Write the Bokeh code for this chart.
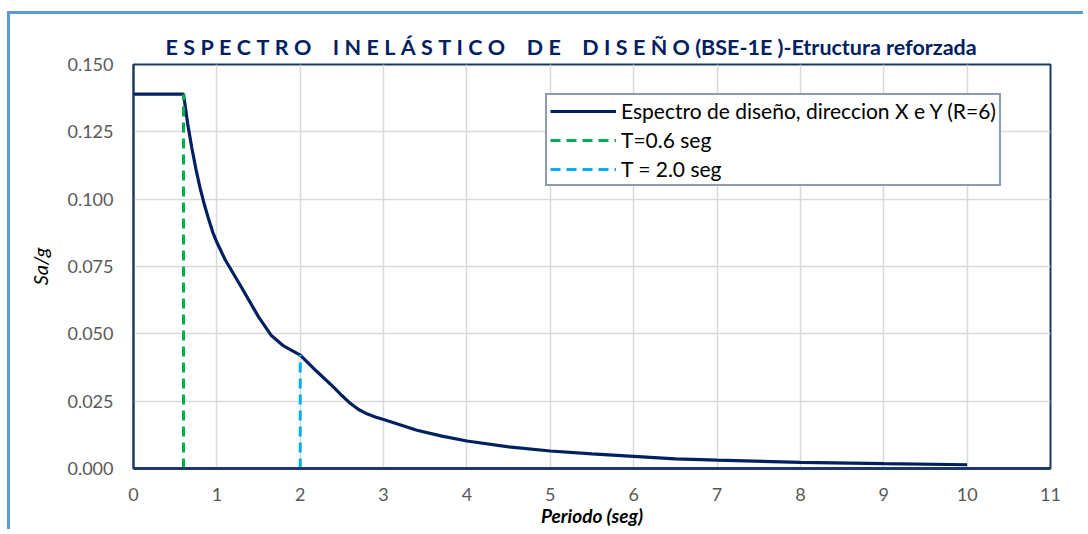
from bokeh.plotting import figure
from bokeh.models import Range1d, NumeralTickFormatter, FixedTicker, Legend
from bokeh.embed import file_html
from bokeh.resources import INLINE

# ---- data ----
periodo = [0.0, 0.6, 0.65, 0.7, 0.75, 0.8, 0.85, 0.9, 0.95, 1.0, 1.1, 1.3, 1.5, 1.65, 1.8, 2.0,
           2.2, 2.4, 2.5, 2.6, 2.7, 2.8, 2.9, 3.0, 3.4, 3.7, 4.0, 4.5, 5.0, 5.5, 6.0, 6.5, 7.0,
           8.0, 9.0, 10.0]
sa_g = [0.139, 0.139, 0.128, 0.119, 0.111, 0.104, 0.098, 0.0927, 0.0878, 0.0840, 0.0775, 0.0670,
        0.0563, 0.0495, 0.0455, 0.0421, 0.0360, 0.0302, 0.0271, 0.0242, 0.0219, 0.0203, 0.0191,
        0.0182, 0.0142, 0.0120, 0.0102, 0.0080, 0.0065, 0.0054, 0.0045, 0.0036, 0.0031, 0.0023,
        0.0018, 0.0014]
t_06 = [0.6, 0.6]
sa_06 = [0.0, 0.139]
t_20 = [2.0, 2.0]
sa_20 = [0.0, 0.0421]
x_ticks = [0, 1, 2, 3, 4, 5, 6, 7, 8, 9, 10, 11]
y_ticks = [0.0, 0.025, 0.05, 0.075, 0.1, 0.125, 0.15]

title_words = ["ESPECTRO", "INELÁSTICO", "DE", "DISEÑO"]
title_tail = "(BSE-1E )-Etructura reforzada"
x_title = "Periodo (seg)"
y_title = "Sa/g"
names = ["Espectro de diseño, direccion X e Y (R=6)", "T=0.6 seg", "T = 2.0 seg"]

# spaced-out lettering of the title (character spacing as in the original)
SP = "\u2005"
title_text = (SP * 4).join(SP.join(w) for w in title_words) + " " + title_tail

FONT = "Lato"
NAVY = "#002060"
FRAME = "#203864"

p = figure(width=1076, height=518, output_backend="svg", toolbar_location=None,
           x_range=Range1d(0, 11), y_range=Range1d(0, 0.15),
           min_border_left=123, min_border_right=36, min_border_top=50, min_border_bottom=64)
p.styles = {"border-top": "3px solid #5B9BD5", "border-left": "3px solid #5B9BD5",
            "margin-top": "11px", "margin-left": "7px"}

p.background_fill_color = "white"
p.border_fill_color = "white"
p.outline_line_color = FRAME
p.outline_line_width = 2

# title
p.title.text = title_text
p.title.align = "left"
p.title.offset = 32
p.title.standoff = 10
p.title.text_font = FONT
p.title.text_font_style = "bold"
p.title.text_font_size = "21.5px"
p.title.text_color = NAVY

# axes
for ax in (p.xaxis, p.yaxis):
    ax.major_tick_line_color = None
    ax.minor_tick_line_color = None
    ax.major_tick_out = 0
    ax.major_tick_in = 0
    ax.major_label_text_font = FONT
    ax.major_label_text_font_size = "18px"
    ax.major_label_text_color = "#595959"

p.xaxis.ticker = FixedTicker(ticks=x_ticks)
p.yaxis.ticker = FixedTicker(ticks=y_ticks)
p.yaxis.formatter = NumeralTickFormatter(format="0.000")
p.xaxis.axis_line_color = FRAME
p.xaxis.axis_line_width = 3
p.yaxis.axis_line_color = FRAME
p.yaxis.axis_line_width = 2
p.xaxis.major_label_standoff = 19
p.yaxis.major_label_standoff = 20

p.yaxis.axis_label = y_title
p.yaxis.axis_label_text_font = FONT
p.yaxis.axis_label_text_font_style = "italic"
p.yaxis.axis_label_text_font_size = "20px"
p.yaxis.axis_label_text_color = "#000000"
p.yaxis.axis_label_standoff = 12

p.xaxis.axis_label = x_title
p.xaxis.axis_label_text_font = FONT
p.xaxis.axis_label_text_font_style = "bold italic"
p.xaxis.axis_label_text_font_size = "19px"
p.xaxis.axis_label_text_color = "#000000"
p.xaxis.axis_label_standoff = 0

p.xgrid.grid_line_color = "#D9D9D9"
p.ygrid.grid_line_color = "#D9D9D9"
p.xgrid.grid_line_width = 1.5
p.ygrid.grid_line_width = 1.5

r1 = p.line(periodo, sa_g, line_color=NAVY, line_width=3.2)
r2 = p.line(t_06, sa_06, line_color="#00B050", line_width=3, line_dash="10 6")
r3 = p.line(t_20, sa_20, line_color="#00B0F0", line_width=3, line_dash="10 6")

legend = Legend(items=[(names[0], [r1]), (names[1], [r2]), (names[2], [r3])],
                location=(412, 282))
legend.border_line_color = FRAME
legend.border_line_width = 2
legend.background_fill_color = "white"
legend.background_fill_alpha = 1
legend.padding = 3
legend.margin = 0
legend.spacing = 4
legend.glyph_width = 66
legend.glyph_height = 24
legend.label_height = 24
legend.label_standoff = 5
legend.label_text_font = FONT
legend.label_text_font_size = "21px"
legend.label_text_color = "#000000"
p.add_layout(legend, "center")

open("out.html", "w").write(file_html(p, INLINE))
